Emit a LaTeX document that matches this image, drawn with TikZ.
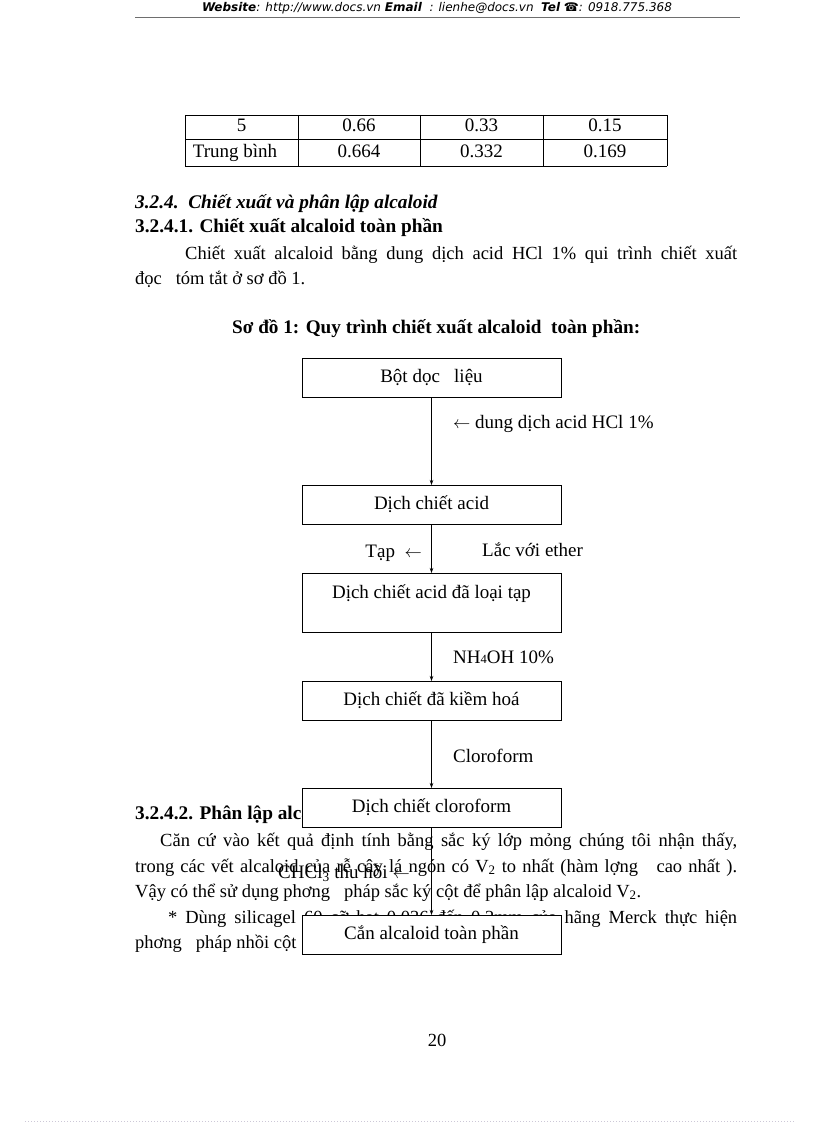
\documentclass[tikz,border=0pt]{standalone}
\usepackage{fontspec}
\setmainfont{Liberation Serif}
\newfontfamily\headfont{DejaVu Sans}
\usepackage{tikz}
\usetikzlibrary{arrows.meta, positioning, calc}
\definecolor{RuleGray}{RGB}{110, 110, 110}
\definecolor{DotGray}{RGB}{205, 200, 215}

\tikzset{
  stepbox/.style={draw, line width=0.9pt, fill=white, minimum width=259pt, outer sep=0pt,
    minimum height=39pt, inner sep=0pt, align=center, font=\fontsize{19}{21}\selectfont},
  flowarrow/.style={line width=0.7pt, -{Stealth[length=5pt,width=3.5pt]}},
  bodyline/.style={anchor=base west, inner sep=0pt, font=\fontsize{18.5}{22}\selectfont},
  boldline/.style={anchor=base west, inner sep=0pt, font=\fontsize{19.3}{22}\selectfont\bfseries},
  cell/.style={anchor=base, inner sep=0pt, font=\fontsize{19}{21}\selectfont},
  flowlabel/.style={inner sep=0pt, font=\fontsize{19}{21}\selectfont},
}

\begin{document}
\begin{tikzpicture}[x=1pt, y=-1pt]
  \fill[white] (0,0) rectangle (816,1123);
  \useasboundingbox (0,0) rectangle (816,1123);

  % page header
  \node[anchor=base, inner sep=0pt, font=\headfont\fontsize{12}{13}\selectfont\itshape] (head) at (437,12)
    {\textbf{Website}: http://www.docs.vn \textbf{Email} \ : lienhe@docs.vn \ \textbf{Tel} ☎: 0918.775.368};
  \draw[RuleGray, line width=0.6pt] (135,17) -- (740,17);

  % end of the table
  \foreach \y in {115,139,166}
    \draw[line width=0.8pt] (185,\y) -- (667,\y);
  \foreach \x in {185,298,420,543,667}
    \draw[line width=0.8pt] (\x,115) -- (\x,166);
  \foreach \cx/\txt [count=\i] in {241.5/5, 359/0.66, 481.5/0.33, 605/0.15}
    \node[cell] (rowa\i) at (\cx,132) {\txt};
  \foreach \cx/\txt [count=\i] in {235/Trung bình, 359/0.664, 481.5/0.332, 605/0.169}
    \node[cell] (rowb\i) at (\cx,158) {\txt};

  % section text
  \node[boldline, font=\fontsize{19.3}{22}\selectfont\bfseries\itshape] (sec) at (135,209)
    {3.2.4.\ \ Chiết xuất và phân lập alcaloid};
  \node[boldline] (subsec) at (135,233) {3.2.4.1. Chiết xuất alcaloid toàn phần};
  \node[bodyline] (para1) at (185,259)
    {\makebox[552pt][s]{Chiết xuất alcaloid bằng dung dịch acid HCl 1\% qui trình chiết xuất}};
  \node[bodyline] (para2) at (135,284) {đọc\ \ \ tóm tắt ở sơ đồ 1.};
  \node[boldline, font=\fontsize{19.2}{22}\selectfont\bfseries] (title) at (232,333)
    {Sơ đồ 1: Quy trình chiết xuất alcaloid\ \ toàn phần:};

  % text running under the chart
  \node[boldline] (subsecb) at (135,819) {3.2.4.2. Phân lập alcaloid};
  \node[bodyline] (lineb1) at (160,846)
    {\makebox[577pt][s]{Căn cứ vào kết quả định tính bằng sắc ký lớp mỏng chúng tôi nhận thấy,}};
  \node[bodyline] (lineb2) at (135,872)
    {\makebox[602pt][s]{trong các vết alcaloid của rễ cây lá ngón có V\textsubscript{2} to nhất (hàm lợng\ \ \ cao nhất ).}};
  \node[bodyline] (lineb3) at (135,897)
    {Vậy có thể sử dụng phơng\ \ \ pháp sắc ký cột để phân lập alcaloid V\textsubscript{2}.};
  \node[bodyline] (lineb4) at (168,923)
    {\makebox[569pt][s]{* Dùng silicagel 60 cỡ hạt 0.036 đến 0.2mm của hãng Merck thực hiện}};
  \node[bodyline] (lineb5) at (135,948) {phơng\ \ \ pháp nhồi cột};

  % flow chart
  \node[stepbox] (bot) at (431.5,377.5) {Bột dọc\ \ \ liệu};
  \node[stepbox, below=88pt of bot] (acid) {Dịch chiết acid};
  \node[stepbox, below=49pt of acid, minimum height=59pt] (loaitap) {Dịch chiết acid đã loại tạp\\ {}};
  \node[stepbox, below=49pt of loaitap] (kiem) {Dịch chiết đã kiềm hoá};
  \node[stepbox, below=68pt of kiem] (clo) {Dịch chiết cloroform};
  \node[stepbox, below=88pt of clo] (can) {Cắn alcaloid toàn phần};

  \draw[flowarrow] (bot) -- (acid);
  \draw[flowarrow] (acid) -- (loaitap);
  \draw[flowarrow] (loaitap) -- (kiem);
  \draw[flowarrow] (kiem) -- (clo);
  \draw[flowarrow] (clo) -- (can);

  \node[flowlabel, anchor=west] (hcl) at (453,424) {$\leftarrow$ dung dịch acid HCl 1\%};
  \node[flowlabel, anchor=east] (tap) at (422,553) {Tạp\ \ $\leftarrow$};
  \node[flowlabel, anchor=west] (ether) at (482,550) {Lắc với ether};
  \node[flowlabel, anchor=west] (nh4oh) at (453,657) {NH{\fontsize{12.5}{12}\selectfont 4}OH 10\%};
  \node[flowlabel, anchor=west] (cloroform) at (453,756) {Cloroform};
  \node[flowlabel, anchor=east] (chcl) at (410,873) {CHCl\textsubscript{3} thu hồi $\leftarrow$};

  % footer
  \node[anchor=base, inner sep=0pt, font=\fontsize{18.5}{22}\selectfont] (pageno) at (437,1046) {20};
  \draw[DotGray, dotted, line width=1pt] (25,1121) -- (795,1121);
\end{tikzpicture}
\end{document}
